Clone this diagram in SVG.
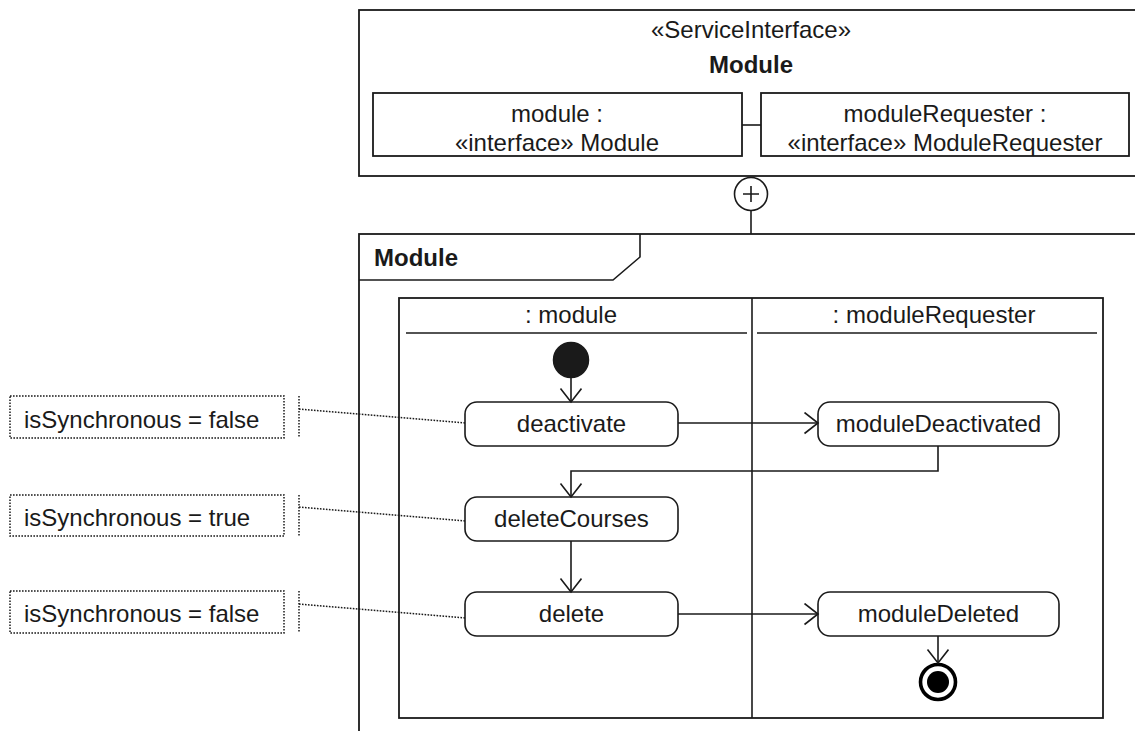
<svg xmlns="http://www.w3.org/2000/svg" width="1135" height="731" viewBox="0 0 1135 731">
<defs>
<style>
text{font-family:"Liberation Sans",Arial,sans-serif;font-size:24px;fill:#1a1a1a}
.b{font-weight:bold}
.m{text-anchor:middle}
.box{fill:#fff;stroke:#1a1a1a;stroke-width:1.8}
.act{fill:#fff;stroke:#1a1a1a;stroke-width:1.6}
.ln{fill:none;stroke:#1a1a1a;stroke-width:1.6}
.dot{fill:none;stroke:#1a1a1a;stroke-width:1.5;stroke-dasharray:1.6,1.4}
</style>
<marker id="arr" markerUnits="userSpaceOnUse" markerWidth="18" markerHeight="26" refX="14.5" refY="11" orient="auto">
<path d="M1,0.5 L14.5,11 L1,21.5" fill="none" stroke="#1a1a1a" stroke-width="1.6"/>
</marker>
</defs>
<rect width="1135" height="731" fill="#fff"/>

<g id="serviceInterface">
<rect class="box" x="359" y="10" width="800" height="166"/>
<text class="m" x="751" y="38">«ServiceInterface»</text>
<text class="m b" x="751" y="73">Module</text>
</g>
<g id="partModule">
<rect class="box" x="373" y="93" width="369" height="63"/>
<text class="m" x="557" y="122">module :</text>
<text class="m" x="557" y="151">«interface» Module</text>
</g>
<g id="partModuleRequester">
<rect class="box" x="761" y="93" width="368" height="63"/>
<text class="m" x="945" y="122">moduleRequester :</text>
<text class="m" x="945" y="151">«interface» ModuleRequester</text>
</g>

<g id="moduleFrame">
<rect class="box" x="359" y="234" width="800" height="520"/>
<path class="ln" d="M359,280 L613,280 L640,257 L640,234"/>
<text class="b" x="374" y="266">Module</text>
</g>

<g id="partitions">
<rect class="box" x="399" y="298" width="704" height="420"/>
<line class="ln" x1="752" y1="298" x2="752" y2="718"/>
<line class="ln" x1="406" y1="333" x2="747" y2="333"/>
<line class="ln" x1="757" y1="333" x2="1097" y2="333"/>
<text class="m" x="571" y="323">: module</text>
<text class="m" x="934" y="323">: moduleRequester</text>
</g>

<g id="initial"><circle cx="571" cy="360" r="17.5" fill="#1a1a1a" stroke="#1a1a1a" stroke-width="1.5"/></g>
<g id="final">
<circle cx="938" cy="682" r="17.5" fill="#fff" stroke="#000" stroke-width="3.6"/>
<circle cx="938" cy="682" r="11" fill="#000"/>
</g>

<g id="deactivate"><rect class="act" x="465" y="402" width="213" height="44" rx="12"/><text class="m" x="571.5" y="432">deactivate</text></g>
<g id="moduleDeactivated"><rect class="act" x="818" y="402" width="241" height="44" rx="12"/><text class="m" x="938.5" y="432">moduleDeactivated</text></g>
<g id="deleteCourses"><rect class="act" x="465" y="497" width="213" height="44" rx="12"/><text class="m" x="571.5" y="527">deleteCourses</text></g>
<g id="delete"><rect class="act" x="465" y="592" width="213" height="44" rx="12"/><text class="m" x="571.5" y="622">delete</text></g>
<g id="moduleDeleted"><rect class="act" x="818" y="592" width="241" height="44" rx="12"/><text class="m" x="938.5" y="622">moduleDeleted</text></g>

<g id="note1"><rect class="dot" x="10" y="396" width="274" height="42"/><line class="dot" x1="299" y1="396" x2="299" y2="438"/><text x="24" y="428">isSynchronous = false</text></g>
<g id="note2"><rect class="dot" x="10" y="495" width="274" height="41"/><line class="dot" x1="299" y1="495" x2="299" y2="536"/><text x="24" y="526">isSynchronous = true</text></g>
<g id="note3"><rect class="dot" x="10" y="591" width="274" height="42"/><line class="dot" x1="299" y1="591" x2="299" y2="633"/><text x="24" y="622">isSynchronous = false</text></g>

<g id="connectors">
<line class="ln" x1="742" y1="125" x2="761" y2="125"/>
<circle cx="751" cy="194" r="16.5" fill="#fff" stroke="#1a1a1a" stroke-width="1.6"/>
<path class="ln" d="M751,186 V202 M743,194 H759" stroke-width="2.2"/>
<line class="ln" x1="751" y1="210.5" x2="751" y2="234"/>
<path class="ln" d="M571,378 V402" marker-end="url(#arr)"/>
<path class="ln" d="M678,423 H818" marker-end="url(#arr)"/>
<path class="ln" d="M938,446 V471 H571 V497" marker-end="url(#arr)"/>
<path class="ln" d="M571,541 V592" marker-end="url(#arr)"/>
<path class="ln" d="M678,614 H818" marker-end="url(#arr)"/>
<path class="ln" d="M938,636 V663" marker-end="url(#arr)"/>
<line class="dot" x1="299" y1="409" x2="465" y2="423"/>
<line class="dot" x1="299" y1="507" x2="465" y2="521"/>
<line class="dot" x1="299" y1="604" x2="465" y2="618"/>
</g>
</svg>
